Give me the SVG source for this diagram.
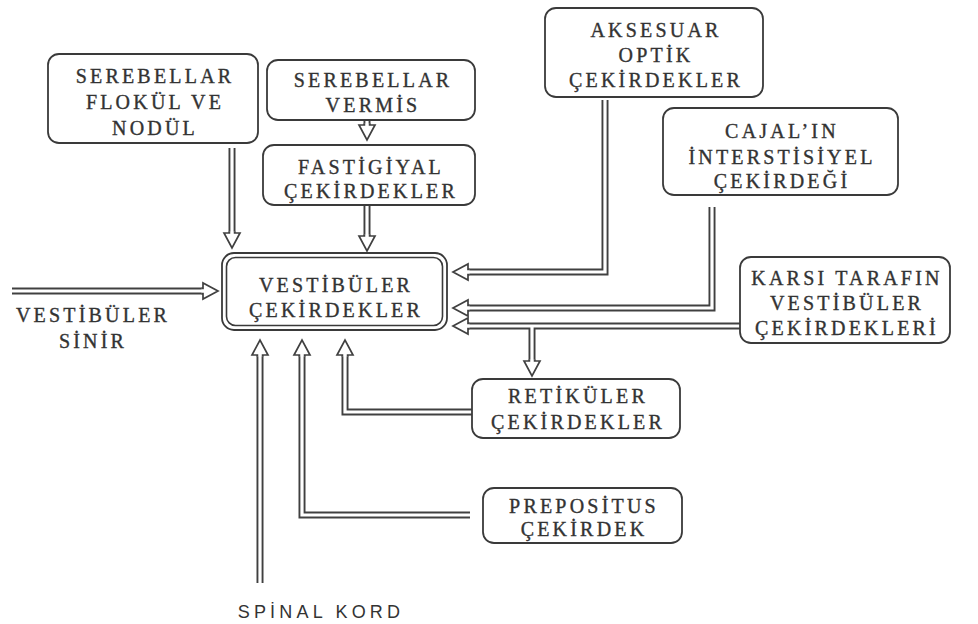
<svg xmlns="http://www.w3.org/2000/svg" width="978" height="624" viewBox="0 0 978 624">
<style>
.box{fill:#fff;stroke:#3a3a3a;stroke-width:1.8}
.t{font-family:"Liberation Serif","Times New Roman",serif;font-size:20px;fill:#333;stroke:#333;stroke-width:0.35;text-anchor:middle;letter-spacing:3.2px}
.s{font-family:"Liberation Sans",Arial,sans-serif;font-size:18px;fill:#333;text-anchor:middle;letter-spacing:4.2px}
.o{fill:none;stroke:#404040;stroke-width:7;stroke-linejoin:miter;stroke-linecap:butt}
.i{fill:none;stroke:#fff;stroke-width:3.2;stroke-linejoin:miter;stroke-linecap:butt;marker-end:url(#head)}
</style>
<defs>
<marker id="head" markerUnits="userSpaceOnUse" viewBox="-5 -15 30 30" markerWidth="30" markerHeight="30" refX="0" refY="0" orient="auto" overflow="visible">
<path d="M-1.5,-2.6 H0 V-8 L15,0 L0,8 V2.6 H-1.5" fill="#fff" stroke="#404040" stroke-width="1.7" stroke-linejoin="miter"/>
</marker>
</defs>
<rect width="978" height="624" fill="#fff"/>

<g id="connectors">
<g id="outer">
<path class="o" d="M232,148 V233"/>
<path class="o" d="M367,121 V125"/>
<path class="o" d="M367,206 V236"/>
<path class="o" d="M12,291 H203" stroke-linecap="round"/>
<path class="o" d="M605,100 V272 H468"/>
<path class="o" d="M712,207 V308 H468"/>
<path class="o" d="M740,326 H468"/>
<path class="o" d="M532,326 V361"/>
<path class="o" d="M472,412 H345 V355"/>
<path class="o" d="M470,515 H302 V355"/>
<path class="o" d="M260,583 V355"/>
</g>
<g id="inner">
<path class="i" d="M232,148 V233"/>
<path class="i" d="M367,121 V125"/>
<path class="i" d="M367,206 V236"/>
<path class="i" d="M12,291 H203" stroke-linecap="round"/>
<path class="i" d="M605,100 V272 H468"/>
<path class="i" d="M712,207 V308 H468"/>
<path class="i" d="M740,326 H468"/>
<path class="i" d="M532,326 V361"/>
<path class="i" d="M472,412 H345 V355"/>
<path class="i" d="M470,515 H302 V355"/>
<path class="i" d="M260,583 V355"/>
</g>
</g>

<g id="flokul">
<rect class="box" x="48" y="54" width="210" height="89" rx="11"/>
<text class="t" x="155" y="83">SEREBELLAR<tspan x="155" y="109">FLOKÜL VE</tspan><tspan x="155" y="135">NODÜL</tspan></text>
</g>
<g id="vermis">
<rect class="box" x="267" y="60" width="208" height="60" rx="11"/>
<text class="t" x="373" y="87">SEREBELLAR<tspan x="373" y="112">VERMİS</tspan></text>
</g>
<g id="fastigiyal">
<rect class="box" x="263" y="145" width="212" height="60" rx="11"/>
<text class="t" x="371" y="174">FASTİGİYAL<tspan x="371" y="198">ÇEKİRDEKLER</tspan></text>
</g>
<g id="aksesuar">
<rect class="box" x="545" y="8" width="218" height="89" rx="11"/>
<text class="t" x="656" y="37">AKSESUAR<tspan x="656" y="62">OPTİK</tspan><tspan x="656" y="87">ÇEKİRDEKLER</tspan></text>
</g>
<g id="cajal">
<rect class="box" x="663" y="108" width="235" height="87" rx="11"/>
<text class="t" x="782" y="138">CAJAL’IN<tspan x="782" y="164">İNTERSTİSİYEL</tspan><tspan x="782" y="188">ÇEKİRDEĞİ</tspan></text>
</g>
<g id="vestibuler">
<rect class="box" x="222" y="253" width="225" height="77" rx="12"/>
<rect x="226.5" y="257.5" width="216" height="68" rx="9" fill="none" stroke="#3a3a3a" stroke-width="1.6"/>
<text class="t" x="336" y="292">VESTİBÜLER<tspan x="336" y="317">ÇEKİRDEKLER</tspan></text>
</g>
<g id="karsi">
<rect class="box" x="740" y="257" width="210" height="86" rx="11"/>
<text class="t" x="847" y="285">KARSI TARAFIN<tspan x="847" y="310">VESTİBÜLER</tspan><tspan x="847" y="335">ÇEKİRDEKLERİ</tspan></text>
</g>
<g id="retikuler">
<rect class="box" x="472" y="379" width="208" height="59" rx="11"/>
<text class="t" x="578" y="403">RETİKÜLER<tspan x="578" y="429">ÇEKİRDEKLER</tspan></text>
</g>
<g id="prepositus">
<rect class="box" x="483" y="488" width="199" height="55" rx="11"/>
<text class="t" x="584" y="513">PREPOSİTUS<tspan x="584" y="536">ÇEKİRDEK</tspan></text>
</g>
<g id="vestibuler-sinir">
<text class="t" x="93" y="322">VESTİBÜLER<tspan x="93" y="348">SİNİR</tspan></text>
</g>
<g id="spinal-kord">
<text class="s" x="321" y="618">SPİNAL KORD</text>
</g>
</svg>
